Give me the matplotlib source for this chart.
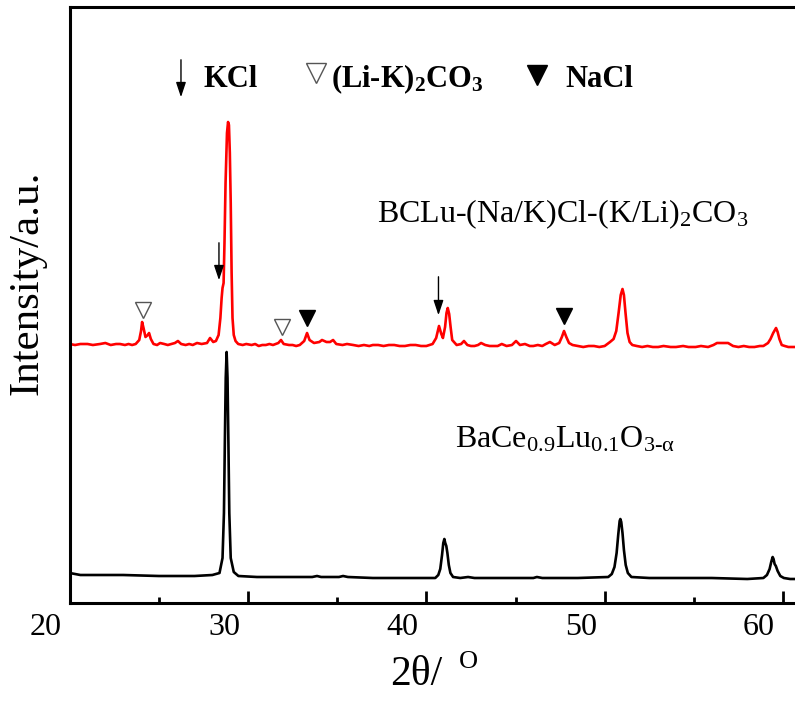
import matplotlib
matplotlib.use("Agg")
import matplotlib.pyplot as plt
from matplotlib.transforms import ScaledTranslation

plt.rcParams['font.family'] = ['Liberation Serif', 'DejaVu Serif']
plt.rcParams['mathtext.fontset'] = 'custom'
plt.rcParams['mathtext.rm'] = 'Liberation Serif'
plt.rcParams['mathtext.it'] = 'Liberation Serif:italic'
plt.rcParams['mathtext.bf'] = 'Liberation Serif:bold'

# BaCe0.9Lu0.1O3-a pattern (black)
bclu_x = [20.0, 20.6, 21.7, 23.0, 25.0, 27.0, 28.0, 28.40, 28.57, 28.65, 28.70, 28.75,
          28.80, 28.85, 28.90, 28.95, 29.03, 29.2, 29.46, 30.5, 32.0, 33.6, 33.87, 34.1,
          35.1, 35.33, 35.6, 37.0, 39.0, 40.5, 40.67, 40.78, 40.88, 40.95, 41.01, 41.06,
          41.12, 41.18, 41.26, 41.35, 41.5, 41.9, 42.34, 42.7, 44.0, 46.0, 46.2, 46.5,
          48.5, 50.2, 50.4, 50.55, 50.67, 50.76, 50.84, 50.88, 50.93, 51.0, 51.08, 51.18,
          51.3, 51.5, 52.5, 54.0, 56.0, 58.0, 58.9, 59.1, 59.25, 59.34, 59.42, 59.47,
          59.53, 59.6, 59.7, 59.85, 60.05, 60.4, 60.95]
bclu_y = [30, 28, 28, 28, 27, 27, 28, 30, 45, 90, 160, 225,
          251, 225, 160, 90, 45, 31, 27, 26, 26, 26, 27, 26,
          26, 27, 26, 25, 25, 25, 28, 34, 48, 60, 64, 60,
          57, 50, 38, 30, 26, 25, 26, 25, 25, 25, 26, 25,
          25, 26, 29, 36, 50, 68, 82, 84, 81, 70, 53, 38,
          30, 26, 25, 25, 25, 24, 25, 28, 34, 41, 46, 44,
          39, 37, 32, 27, 25, 24, 24]

# BCLu-(Na/K)Cl-(K/Li)2CO3 pattern (red)
comp_x = [20.0, 20.3, 20.6, 21.0, 21.3, 21.7, 22.0, 22.3, 22.6, 22.82, 23.1, 23.3,
          23.5, 23.7, 23.9, 24.0, 24.06, 24.14, 24.25, 24.38, 24.45, 24.55, 24.7, 24.9,
          25.07, 25.3, 25.5, 25.7, 25.9, 26.07, 26.25, 26.5, 26.7, 26.9, 27.14, 27.4,
          27.7, 27.87, 28.05, 28.2, 28.35, 28.45, 28.52, 28.57, 28.63, 28.68, 28.74, 28.82,
          28.88, 28.93, 28.98, 29.03, 29.08, 29.13, 29.2, 29.3, 29.45, 29.7, 29.9, 30.2,
          30.4, 30.6, 30.8, 31.0, 31.2, 31.4, 31.7, 31.85, 32.0, 32.3, 32.5, 32.7,
          32.9, 33.15, 33.31, 33.45, 33.7, 34.0, 34.15, 34.4, 34.6, 34.77, 34.95, 35.3,
          35.55, 35.9, 36.2, 36.5, 36.8, 37.0, 37.3, 37.6, 37.9, 38.2, 38.5, 38.8,
          39.1, 39.4, 39.7, 40.0, 40.35, 40.55, 40.71, 40.84, 40.93, 41.05, 41.13, 41.20,
          41.28, 41.36, 41.45, 41.7, 41.95, 42.11, 42.3, 42.5, 42.7, 42.9, 43.07, 43.3,
          43.55, 43.8, 44.0, 44.23, 44.5, 44.8, 45.03, 45.25, 45.53, 45.8, 46.0, 46.25,
          46.5, 46.7, 46.93, 47.2, 47.45, 47.6, 47.72, 47.85, 48.0, 48.2, 48.5, 48.8,
          49.1, 49.4, 49.7, 50.0, 50.3, 50.5, 50.65, 50.78, 50.9, 51.0, 51.08, 51.17,
          51.28, 51.4, 51.55, 51.8, 52.1, 52.4, 52.7, 53.0, 53.3, 53.7, 54.0, 54.4,
          54.7, 55.1, 55.4, 55.8, 56.1, 56.30, 56.6, 56.92, 57.2, 57.5, 57.8, 58.1,
          58.4, 58.7, 58.9, 59.16, 59.30, 59.45, 59.61, 59.70, 59.80, 59.93, 60.1, 60.3,
          60.6, 60.95]
comp_y = [259, 258, 259, 259, 258, 259, 260, 258, 259, 259, 258, 259,
          258, 259, 263, 272, 281, 275, 266, 268, 270, 264, 259, 258,
          260, 259, 258, 259, 260, 262, 259, 258, 259, 258, 260, 259,
          260, 265, 261, 262, 268, 285, 305, 315, 320, 360, 420, 470,
          481, 478, 450, 400, 330, 285, 268, 262, 259, 258, 259, 258,
          259, 257, 258, 258, 259, 258, 260, 263, 259, 258, 258, 257,
          258, 262, 270, 263, 260, 261, 263, 261, 261, 263, 259, 258,
          259, 258, 257, 258, 257, 258, 258, 257, 258, 258, 257, 257,
          258, 258, 257, 257, 259, 265, 277, 269, 265, 276, 290, 295,
          289, 276, 263, 258, 259, 262, 258, 257, 257, 258, 260, 258,
          257, 257, 257, 259, 257, 258, 262, 258, 259, 257, 257, 258,
          257, 259, 261, 258, 260, 266, 272, 266, 260, 258, 257, 256,
          257, 257, 256, 257, 261, 264, 272, 290, 308, 314, 308, 290,
          270, 261, 258, 257, 256, 257, 256, 256, 257, 256, 256, 257,
          256, 256, 257, 256, 258, 260, 260, 260, 257, 256, 257, 256,
          256, 257, 257, 260, 264, 270, 275, 271, 264, 258, 257, 256,
          256, 256]

# phase markers
kcl_x = [28.37, 40.68]
kcl_top = [363, 329]
kcl_tip = [320, 285]
carb_x = [24.11, 31.91]
carb_y = [293, 276]
nacl_x = [33.31, 47.72]
nacl_y = [285, 287]

fig = plt.figure(figsize=(7.95, 7.01), dpi=100)
ax = fig.add_axes([69.7 / 795, 98 / 701, 730.3 / 795, 596 / 701])

ax.plot(bclu_x, bclu_y, color='black', lw=1.9)
ax.plot(comp_x, comp_y, color='#ff0000', lw=1.9)

for x, y0, y1 in zip(kcl_x, kcl_top, kcl_tip):
    ax.annotate('', xy=(x, y1), xytext=(x, y0),
                arrowprops=dict(arrowstyle='-|>,head_length=0.9,head_width=0.3',
                                color='black', lw=1))
ax.plot(carb_x, carb_y, 'v', ms=11, mfc='none', mec='#555555', mew=1)
ax.plot(nacl_x, nacl_y, 'v', ms=12, color='black')

# legend row on top
ax.annotate('', xy=(26.24, 503), xytext=(26.24, 546),
            arrowprops=dict(arrowstyle='-|>,head_length=0.9,head_width=0.3',
                            color='black', lw=1))
ax.text(27.48, 516, 'KCl', fontsize=22, fontweight='bold', va='baseline')
ax.plot([33.81], [530], 'v', ms=14, mfc='none', mec='#555555', mew=1)
ax.text(34.65, 516, r'(Li-K)$_\mathbf{2}$CO$_\mathbf{3}$', fontsize=22,
        fontweight='bold', va='baseline')
ax.plot([46.21], [528], 'v', ms=15, color='black')
ax.text(47.78, 516, 'NaCl', fontsize=22, fontweight='bold', va='baseline')

ax.text(37.23, 381, r'BCLu-(Na/K)Cl-(K/Li)$_\mathrm{2}$CO$_\mathrm{3}$', fontsize=23,
        va='baseline')
ax.text(41.61, 156, r'BaCe$_\mathrm{0.9}$Lu$_\mathrm{0.1}$O$_\mathrm{3\text{-}α}$',
        fontsize=23, va='baseline')

ax.set_xlim(20, 60.954)
ax.set_ylim(0, 596)
ax.set_xticks([20, 30, 40, 50, 60])
ax.set_xticks([25, 35, 45, 55], minor=True)
ax.set_yticks([])
ax.tick_params(axis='x', which='major', direction='in', length=8.6, width=2,
               labelsize=23, pad=7)
ax.tick_params(axis='x', which='minor', direction='in', length=4.3, width=2)
for s in ['left', 'bottom', 'top']:
    ax.spines[s].set_linewidth(2.2)
ax.spines['right'].set_visible(False)

shift = ScaledTranslation(-0.24, 0, fig.dpi_scale_trans)
for lbl in ax.get_xticklabels():
    lbl.set_transform(lbl.get_transform() + shift)

ax.set_xlabel('2θ/', fontsize=30)
ax.xaxis.set_label_coords(0.475, -0.088)
ax.text(0.546, -0.099, 'O', transform=ax.transAxes, fontsize=19,
        ha='center', va='center')
ax.set_ylabel('Intensity/a.u.', fontsize=31)
ax.yaxis.set_label_coords(-0.032, 0.537)

fig.savefig('out.png', dpi=100)
